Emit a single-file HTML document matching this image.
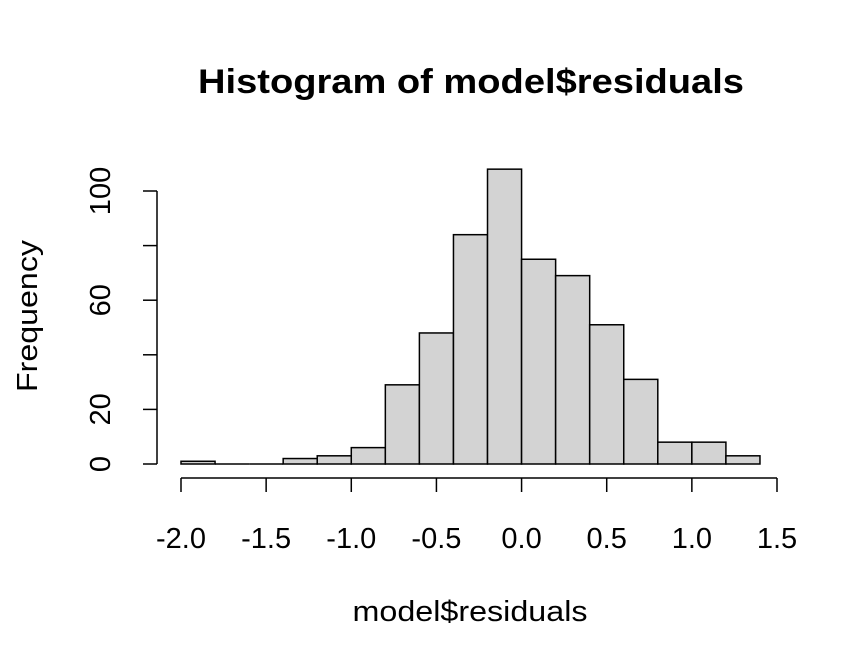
<!DOCTYPE html>
<html><head><meta charset="utf-8"><style>
body{margin:0;background:#fff}
svg{display:block;font-family:"Liberation Sans",Arial,sans-serif}
</style></head><body>
<svg id="chart" width="864" height="672" viewBox="0 0 864 672">
<rect width="864" height="672" fill="#fff"/>
<text x="471" y="93" text-anchor="middle" font-size="34" font-weight="bold" textLength="546" lengthAdjust="spacingAndGlyphs">Histogram of model$residuals</text>
<text x="470" y="621" text-anchor="middle" font-size="29" textLength="235" lengthAdjust="spacingAndGlyphs">model$residuals</text>
<text transform="translate(37,316) rotate(-90)" text-anchor="middle" font-size="29" textLength="152" lengthAdjust="spacingAndGlyphs">Frequency</text>
<g id="bars"></g><g id="xaxis"></g><g id="yaxis"></g>
</svg>
<script>
const binStarts=[-2.0,-1.8,-1.6,-1.4,-1.2,-1.0,-0.8,-0.6,-0.4,-0.2,0.0,0.2,0.4,0.6,0.8,1.0,1.2];
const counts=[1,0,0,2,3,6,29,48,84,108,75,69,51,31,8,8,3];
const binWidth=0.2;
const xTicks=[-2.0,-1.5,-1.0,-0.5,0.0,0.5,1.0,1.5];
const yTicks=[0,20,40,60,80,100];
const yLabels=["0","20","","60","","100"];
const NS="http://www.w3.org/2000/svg";
const xs=v=>181+(v+2)*(596/3.5);
const ys=v=>464-v*2.73;
function mk(t,a,p){const e=document.createElementNS(NS,t);for(const k in a)e.setAttribute(k,a[k]);p.appendChild(e);return e;}
const bars=document.getElementById('bars');
binStarts.forEach((s,i)=>{
 const x0=xs(s),x1=xs(s+binWidth),y=ys(counts[i]);
 let r;
 if(counts[i]===0){
  r=mk('line',{x1:x0,x2:x1,y1:464,y2:464,stroke:'#000','stroke-width':1.5},bars);
 } else {
  r=mk('rect',{x:x0,y:y,width:x1-x0,height:464-y,fill:'#d3d3d3',stroke:'#000','stroke-width':1.5},bars);
 }
 
 
});
const xa=document.getElementById('xaxis');


mk('line',{x1:xs(xTicks[0]),x2:xs(xTicks[xTicks.length-1]),y1:478,y2:478,stroke:'#000','stroke-width':1.5},xa);
xTicks.forEach(v=>{
 mk('line',{x1:xs(v),x2:xs(v),y1:478,y2:492,stroke:'#000','stroke-width':1.5},xa);
 const t=mk('text',{x:xs(v),y:548,'text-anchor':'middle','font-size':29},xa);
 t.textContent=v.toFixed(1);
 
 
});
const ya=document.getElementById('yaxis');


mk('line',{x1:157,x2:157,y1:ys(yTicks[0]),y2:ys(yTicks[yTicks.length-1]),stroke:'#000','stroke-width':1.5},ya);
yTicks.forEach((v,i)=>{
 mk('line',{x1:143,x2:157,y1:ys(v),y2:ys(v),stroke:'#000','stroke-width':1.5},ya);
 if(yLabels[i]){
  const t=mk('text',{x:0,y:0,'text-anchor':'middle','font-size':29,transform:`translate(110,${ys(v)}) rotate(-90)`},ya);
  t.textContent=yLabels[i];
  
  
 }
});
</script>
</body></html>
